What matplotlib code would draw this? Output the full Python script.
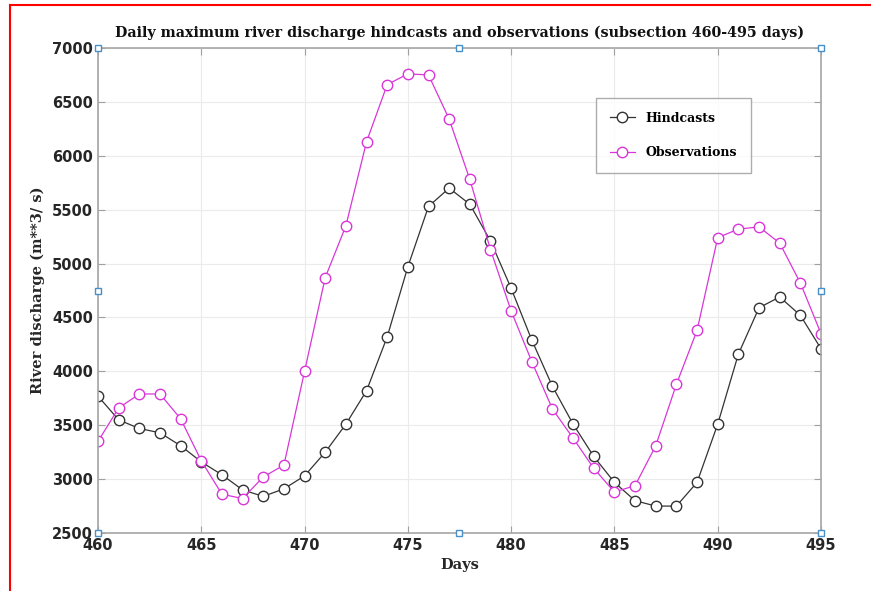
import matplotlib
matplotlib.use("Agg")
import matplotlib.pyplot as plt
from matplotlib.lines import Line2D

# days 460..495
days = list(range(460, 496))

hindcasts = [3770, 3550, 3470, 3430, 3310, 3160, 3040, 2900, 2840, 2910,
             3030, 3250, 3510, 3820, 4320, 4970, 5530, 5700, 5550, 5210,
             4770, 4290, 3860, 3510, 3210, 2970, 2800, 2750, 2750, 2970,
             3510, 4160, 4590, 4690, 4520, 4210]

observations = [3350, 3660, 3790, 3790, 3560, 3170, 2860, 2820, 3020, 3130,
                4000, 4870, 5350, 6130, 6660, 6760, 6750, 6340, 5780, 5130,
                4560, 4090, 3650, 3380, 3100, 2880, 2940, 3310, 3880, 4380,
                5240, 5320, 5340, 5190, 4820, 4350]

x_ticks = list(range(460, 496, 5))
y_ticks = list(range(2500, 7001, 500))

serif = "DejaVu Serif"
sans = "DejaVu Sans"

fig = plt.figure(figsize=(8.71, 5.91), dpi=100)
ax = fig.add_axes([0.1125, 0.0981, 0.8301, 0.8207])

ax.plot(days, hindcasts, color="#333333", lw=0.9, marker="o", ms=7.5,
        mfc="white", mec="#333333", mew=1.0, label="Hindcasts")
ax.plot(days, observations, color="#d936d9", lw=0.9, marker="o", ms=7.5,
        mfc="white", mec="#d936d9", mew=1.0, label="Observations")

ax.set_xlim(460, 495)
ax.set_ylim(2500, 7000)
ax.set_xticks(x_ticks)
ax.set_yticks(y_ticks)
ax.grid(True, color="#ebebeb", lw=0.8)
ax.set_axisbelow(True)
ax.tick_params(direction="in", top=True, right=True, length=5,
               color="#a0a0a0", labelsize=10.5, labelcolor="#262626")
for lab in ax.get_xticklabels() + ax.get_yticklabels():
    lab.set_fontweight("bold")
    lab.set_family(sans)
for sp in ax.spines.values():
    sp.set_color("#a6a6a6")
    sp.set_linewidth(1.2)

ax.set_title("Daily maximum river discharge hindcasts and observations (subsection 460-495 days)",
             family=serif, fontweight="bold", fontsize=10.3, color="#111111", pad=8)
ax.set_xlabel("Days", family=serif, fontweight="bold", fontsize=10.5, color="#262626", labelpad=4)
ax.set_ylabel("River discharge (m**3/ s)", family=serif, fontweight="bold", fontsize=10.5,
              color="#262626", labelpad=5)

leg = ax.legend(loc="upper left", bbox_to_anchor=(0.68, 0.91), frameon=True,
                fancybox=False, edgecolor="#999999", borderpad=1.1,
                labelspacing=1.7, handlelength=2.0, handletextpad=0.9,
                prop={"family": serif, "weight": "bold", "size": 9})
leg.get_frame().set_linewidth(1.0)

# selection handles around the axes
for hx in (0, 0.5, 1):
    for hy in (0, 0.5, 1):
        if hx == 0.5 and hy == 0.5:
            continue
        ax.plot(hx, hy, marker="s", ms=4, mfc="white", mec="#4a90c8", mew=1.0,
                transform=ax.transAxes, clip_on=False, zorder=5)

# red frame at left and top of the picture
fig.add_artist(Line2D([0.012, 0.012], [0, 0.992], color="red", lw=1.5,
                      transform=fig.transFigure))
fig.add_artist(Line2D([0.012, 1], [0.992, 0.992], color="red", lw=1.5,
                      transform=fig.transFigure))

fig.savefig("out.png", dpi=100)
